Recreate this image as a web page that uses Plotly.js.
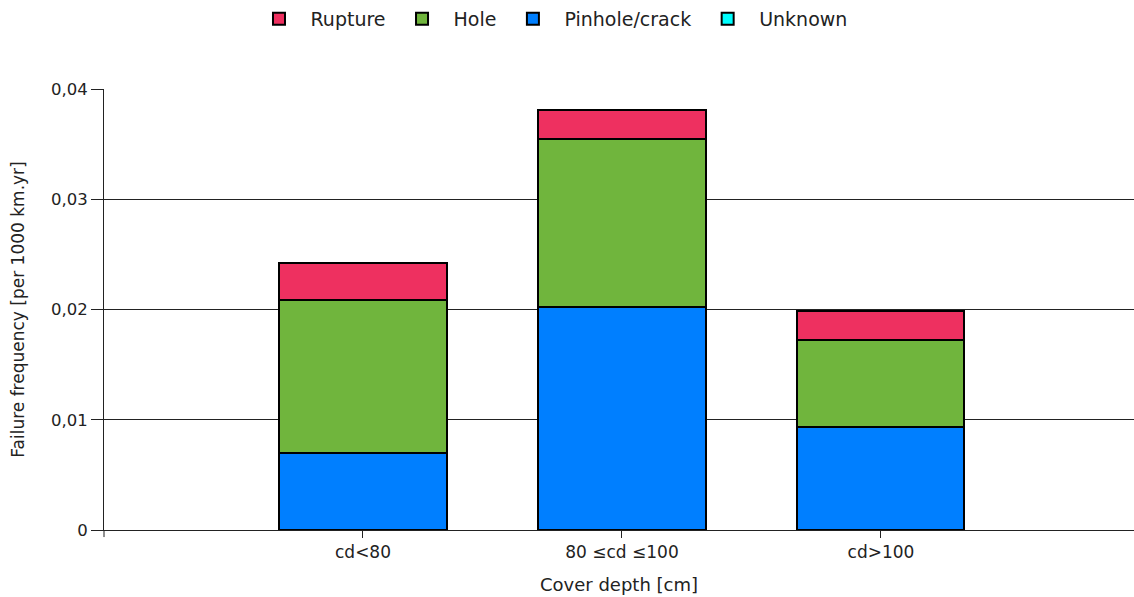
<!DOCTYPE html>
<html>
<head>
<meta charset="utf-8">
<script src="https://cdn.plot.ly/plotly-3.0.1.min.js"></script>
<style>html,body{margin:0;padding:0;background:#fff;}#chart{width:1134px;height:597px;}</style>
</head>
<body>
<div id="chart"></div>
<script>
const categories = ['cd<80', '80 \u2264cd \u2264100', 'cd>100'];
const pinholeCrack = [0.0070, 0.0202, 0.0093];
const hole = [0.0139, 0.0153, 0.0079];
const rupture = [0.0033, 0.0026, 0.0027];
const unknown = [0, 0, 0];
const yTicks = [0, 0.01, 0.02, 0.03, 0.04];
const yTickText = ['0', '0,01', '0,02', '0,03', '0,04'];

const FAM = 'DejaVu Sans, Verdana, sans-serif';
const font = {family: FAM, size: 17, color: '#222'};
const line = {color: '#000', width: 2};
function tr(name, y, color, rank) {
  return {type: 'bar', name: name, x: categories, y: y, width: 0.645,
    marker: {color: color, line: line}, legendrank: rank, hoverinfo: 'y'};
}
const data = [
  tr('Pinhole/crack', pinholeCrack, '#007FFF', 3),
  tr('Hole', hole, '#70B53D', 2),
  tr('Rupture', rupture, '#EE3060', 1),
  tr('Unknown', unknown, '#00FFFF', 4)
];
const layout = {
  width: 1134, height: 597,
  barmode: 'stack',
  separators: ', ',
  font: font,
  paper_bgcolor: '#fff', plot_bgcolor: '#fff',
  margin: {l: 104, r: 0, t: 89, b: 67},
  showlegend: true,
  legend: {orientation: 'h', traceorder: 'normal', x: 0.433, xanchor: 'center', yref: 'container', y: 1.0, yanchor: 'top',
    font: {family: FAM, size: 19, color: '#222'}, itemwidth: 53},
  xaxis: {type: 'category', range: [-1, 2.977], showgrid: false, zeroline: false,
    showline: true, linecolor: '#222', linewidth: 1, ticks: 'outside', ticklen: 7, tickcolor: '#222',
    tickfont: {size: 17},
    title: {text: 'Cover depth [cm]', font: {size: 18}, standoff: 16}, fixedrange: true},
  yaxis: {range: [0, 0.04], tickvals: yTicks, ticktext: yTickText, showgrid: true, gridcolor: '#222', gridwidth: 1,
    zeroline: false, showline: true, linecolor: '#222', linewidth: 1, ticks: 'outside', ticklen: 12, tickcolor: '#222',
    tickfont: {size: 16.5},
    title: {text: 'Failure frequency [per 1000 km.yr]', font: {size: 17}, standoff: 22}},
  shapes: [{type: 'line', xref: 'paper', yref: 'paper', x0: 0, x1: 0, y0: 0, y1: -0.016, line: {color: '#222', width: 1}}]
};
Plotly.newPlot('chart', data, layout, {displayModeBar: false, staticPlot: true});
</script>
</body>
</html>
